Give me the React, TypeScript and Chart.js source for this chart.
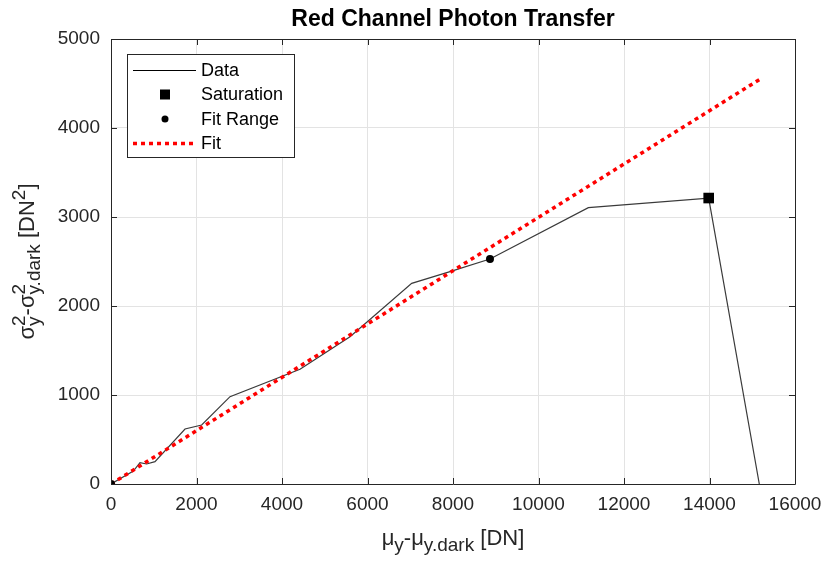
import React, { useEffect, useRef } from "react";
import { Chart, registerables } from "chart.js";

Chart.register(...registerables);

const titleText = "Red Channel Photon Transfer";
const dataX = [0, 523, 678, 834, 1029, 1731, 2121, 2784, 4421, 5591, 7034, 7930, 8865, 11166, 13981, 15165];
const dataY = [0, 146, 240, 225, 251, 618, 663, 981, 1289, 1655, 2255, 2386, 2528, 3105, 3213, 0];
const saturationX = [13981];
const saturationY = [3213];
const fitRangeX = [0, 8865];
const fitRangeY = [0, 2528];
const fitX = [0, 15220];
const fitY = [0, 4560];
const xTickMin = 0;
const xTickMax = 16000;
const xTickStep = 2000;
const yTickMin = 0;
const yTickMax = 5000;
const yTickStep = 1000;
const legendLabels = ["Data", "Saturation", "Fit Range", "Fit"];

const FONT = '"Liberation Sans", Arial, Helvetica, sans-serif';
const AXIS_COLOR = "#262626";

const toPts = (xs: number[], ys: number[]) => xs.map((x, i) => ({ x, y: ys[i] }));

type Seg = { t?: string; sup?: string; sub?: string };

function drawRich(ctx: CanvasRenderingContext2D, segs: Seg[], main: number, small: number) {
  const widths = segs.map((s) => {
    if (s.t !== undefined) {
      ctx.font = `${main}px ${FONT}`;
      return ctx.measureText(s.t).width;
    }
    ctx.font = `${small}px ${FONT}`;
    const a = s.sup ? ctx.measureText(s.sup).width : 0;
    const b = s.sub ? ctx.measureText(s.sub).width : 0;
    return Math.max(a, b);
  });
  const total = widths.reduce((a, b) => a + b, 0);
  let x = -total / 2;
  ctx.textAlign = "left";
  ctx.textBaseline = "alphabetic";
  segs.forEach((s, i) => {
    if (s.t !== undefined) {
      ctx.font = `${main}px ${FONT}`;
      ctx.fillText(s.t, x, 0);
    } else {
      ctx.font = `${small}px ${FONT}`;
      if (s.sup) ctx.fillText(s.sup, x, -main * 0.42);
      if (s.sub) ctx.fillText(s.sub, x, main * 0.25);
    }
    x += widths[i];
  });
}

const decorPlugin = {
  id: "decor",
  afterDraw(chart: any) {
    const ctx: CanvasRenderingContext2D = chart.ctx;
    const { left, right, top, bottom } = chart.chartArea;
    const xs = chart.scales.x;
    const ys = chart.scales.y;
    ctx.save();
    ctx.strokeStyle = AXIS_COLOR;
    ctx.lineWidth = 1;
    ctx.beginPath();
    ctx.moveTo(left + 0.5, bottom + 0.5);
    ctx.lineTo(left + 0.5, top + 0.5);
    ctx.lineTo(right + 0.5, top + 0.5);
    ctx.lineTo(right + 0.5, bottom + 0.5);
    ctx.lineTo(left + 0.5, bottom + 0.5);
    ctx.stroke();
    const tl = 6;
    ctx.beginPath();
    for (let v = xTickMin; v <= xTickMax; v += xTickStep) {
      const px = Math.round(xs.getPixelForValue(v)) + 0.5;
      ctx.moveTo(px, bottom);
      ctx.lineTo(px, bottom - tl);
      ctx.moveTo(px, top);
      ctx.lineTo(px, top + tl);
    }
    for (let v = yTickMin; v <= yTickMax; v += yTickStep) {
      const py = Math.round(ys.getPixelForValue(v)) + 0.5;
      ctx.moveTo(left, py);
      ctx.lineTo(left + tl, py);
      ctx.moveTo(right, py);
      ctx.lineTo(right - tl, py);
    }
    ctx.stroke();

    ctx.fillStyle = "#000";
    ctx.font = `bold 23px ${FONT}`;
    ctx.textAlign = "center";
    ctx.textBaseline = "middle";
    ctx.fillText(titleText, (left + right) / 2, 20);

    ctx.fillStyle = AXIS_COLOR;
    ctx.save();
    ctx.translate((left + right) / 2, 545);
    drawRich(
      ctx,
      [{ t: "\u03bc" }, { sub: "y" }, { t: "-\u03bc" }, { sub: "y.dark" }, { t: " [DN]" }],
      22,
      19
    );
    ctx.restore();

    ctx.save();
    ctx.translate(34, (top + bottom) / 2);
    ctx.rotate(-Math.PI / 2);
    drawRich(
      ctx,
      [
        { t: "\u03c3" },
        { sup: "2", sub: "y" },
        { t: "-\u03c3" },
        { sup: "2", sub: "y.dark" },
        { t: " [DN" },
        { sup: "2" },
        { t: "]" },
      ],
      22,
      19
    );
    ctx.restore();

    const bx = 127, by = 54, bw = 167, bh = 103;
    ctx.fillStyle = "#fff";
    ctx.fillRect(bx, by, bw, bh);
    ctx.strokeStyle = AXIS_COLOR;
    ctx.lineWidth = 1;
    ctx.strokeRect(bx + 0.5, by + 0.5, bw, bh);
    const rows = [70, 94.5, 119, 143.5];
    const sx0 = 133, sx1 = 196, mx = 165, tx = 201;
    ctx.strokeStyle = "#000";
    ctx.lineWidth = 1;
    ctx.beginPath();
    ctx.moveTo(sx0, rows[0] + 0.5);
    ctx.lineTo(sx1, rows[0] + 0.5);
    ctx.stroke();
    ctx.fillStyle = "#000";
    ctx.fillRect(mx - 5, rows[1] - 5, 10, 10);
    ctx.beginPath();
    ctx.arc(mx, rows[2], 3.5, 0, Math.PI * 2);
    ctx.fill();
    ctx.strokeStyle = "#ff0000";
    ctx.lineWidth = 3.5;
    ctx.setLineDash([4, 4]);
    ctx.beginPath();
    ctx.moveTo(sx0, rows[3]);
    ctx.lineTo(sx1, rows[3]);
    ctx.stroke();
    ctx.setLineDash([]);
    ctx.fillStyle = "#000";
    ctx.font = `18px ${FONT}`;
    ctx.textAlign = "left";
    ctx.textBaseline = "middle";
    legendLabels.forEach((l, i) => ctx.fillText(l, tx, rows[i] + 1));
    ctx.restore();
  },
};

export default function App() {
  const ref = useRef<HTMLCanvasElement | null>(null);
  useEffect(() => {
    if (!ref.current) return;
    const chart = new Chart(ref.current, {
      type: "scatter",
      data: {
        datasets: [
          {
            label: legendLabels[1],
            data: toPts(saturationX, saturationY),
            pointStyle: "rect",
            pointRadius: 7.5,
            backgroundColor: "#000",
            borderColor: "#000",
            borderWidth: 0,
            showLine: false,
            order: 1,
          },
          {
            label: legendLabels[2],
            data: toPts(fitRangeX, fitRangeY),
            pointRadius: 4,
            backgroundColor: "#000",
            borderColor: "#000",
            borderWidth: 0,
            showLine: false,
            order: 2,
          },
          {
            label: legendLabels[3],
            data: toPts(fitX, fitY),
            showLine: true,
            borderColor: "#ff0000",
            borderWidth: 3.5,
            borderDash: [4, 4],
            pointRadius: 0,
            order: 3,
          },
          {
            label: legendLabels[0],
            data: toPts(dataX, dataY),
            showLine: true,
            borderColor: "#3a3a3a",
            borderWidth: 1.2,
            pointRadius: 0,
            order: 4,
          },
        ],
      },
      options: {
        responsive: false,
        animation: false,
        devicePixelRatio: 1,
        layout: { padding: { top: 39, right: 28, left: 0, bottom: 0 } },
        plugins: { legend: { display: false }, tooltip: { enabled: false }, title: { display: false } },
        scales: {
          x: {
            type: "linear",
            min: xTickMin,
            max: xTickMax,
            ticks: {
              stepSize: xTickStep,
              color: AXIS_COLOR,
              font: { family: FONT, size: 19 },
              padding: 9,
              maxRotation: 0,
              callback: (v: any) => String(v),
            },
            grid: { color: "#e3e3e3", drawTicks: false },
            border: { display: false },
            afterFit: (s: any) => {
              s.height = 78;
              s.paddingLeft = 0;
              s.paddingRight = 0;
            },
          },
          y: {
            type: "linear",
            min: yTickMin,
            max: yTickMax,
            ticks: {
              stepSize: yTickStep,
              color: AXIS_COLOR,
              font: { family: FONT, size: 19 },
              padding: 11,
              callback: (v: any) => String(v),
            },
            grid: { color: "#e3e3e3", drawTicks: false },
            border: { display: false },
            afterFit: (s: any) => {
              s.width = 111;
              s.paddingTop = 0;
              s.paddingBottom = 0;
            },
          },
        },
      },
      plugins: [decorPlugin],
    } as any);
    return () => chart.destroy();
  }, []);
  return (
    <div style={{ position: "fixed", left: 0, top: 0, width: 823, height: 562, background: "#fff" }}>
      <canvas ref={ref} width={823} height={562} style={{ display: "block" }} />
    </div>
  );
}
